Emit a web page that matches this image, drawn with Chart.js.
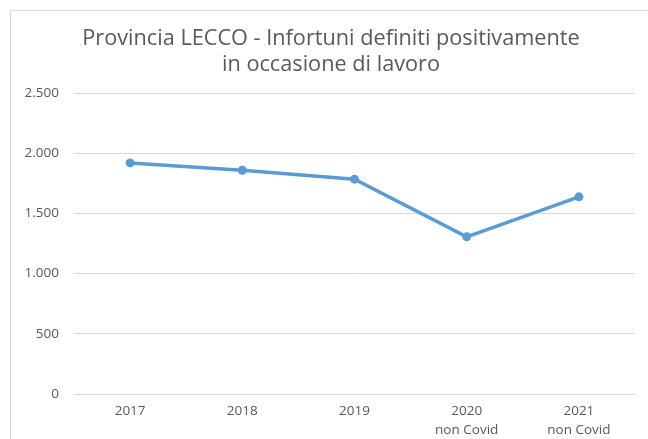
<!DOCTYPE html>
<html lang="it">
<head>
<meta charset="utf-8">
<title>Provincia LECCO - Infortuni</title>
<script src="https://cdn.jsdelivr.net/npm/chart.js@4/dist/chart.umd.min.js"></script>
<style>
    html, body { margin: 0; padding: 0; background: #fff; overflow: hidden; }
    #frame {
        position: absolute;
        left: 10px;
        top: 10px;
        width: 650px;
        height: 440px;
        border-left: 1px solid #d9d9d9;
        border-top: 1px solid #d9d9d9;
    }
    #chartBox { position: absolute; left: 0; top: 0; width: 640px; height: 428px; }
</style>
</head>
<body>
<div id="frame">
    <div id="chartBox"><canvas id="lineChart"></canvas></div>
</div>
<script>
// anni e valori (infortuni definiti positivamente)
const anni = [['2017'], ['2018'], ['2019'], ['2020', 'non Covid'], ['2021', 'non Covid']];
const infortuni = [1920, 1859, 1785, 1306, 1638];
const yMax = 2500;
const yStep = 500;

const titolo = ['Provincia LECCO - Infortuni definiti positivamente', 'in occasione di lavoro'];

const grigio = '#595959';
const griglia = '#d9d9d9';
const blu = '#5b9bd5';

// 2500 -> "2.500"
function formatoIt(v) {
    return String(v).replace(/\B(?=(\d{3})+(?!\d))/g, '.');
}

Chart.defaults.font.family = "'Open Sans', 'Liberation Sans', sans-serif";
Chart.defaults.color = grigio;

new Chart(document.getElementById('lineChart'), {
    type: 'line',
    data: {
        labels: anni,
        datasets: [{
            data: infortuni,
            borderColor: blu,
            backgroundColor: blu,
            borderWidth: 3.5,
            pointRadius: 4.5,
            pointHoverRadius: 4.5,
            pointBorderWidth: 0,
            pointBackgroundColor: blu,
            tension: 0,
            fill: false
        }]
    },
    options: {
        responsive: true,
        maintainAspectRatio: false,
        animation: false,
        layout: { padding: 0 },
        plugins: {
            legend: { display: false },
            tooltip: { enabled: false },
            title: {
                display: true,
                text: titolo,
                color: grigio,
                font: { size: 21.7, weight: 'normal', lineHeight: 1.2 },
                padding: { top: 15, bottom: 15 }
            }
        },
        scales: {
            x: {
                offset: true,
                grid: { display: false, drawTicks: false },
                border: { display: true, color: griglia, width: 1 },
                ticks: {
                    padding: 8,
                    maxRotation: 0,
                    font: { size: 13.5, lineHeight: 1.4 }
                },
                afterFit: function(scale) { scale.height = 45; }
            },
            y: {
                min: 0,
                max: yMax,
                grid: { color: griglia, lineWidth: 1, drawTicks: false },
                border: { display: false },
                ticks: {
                    stepSize: yStep,
                    padding: 15,
                    font: { size: 13.5 },
                    callback: function(v) { return formatoIt(v); }
                },
                afterFit: function(scale) { scale.width = 63; }
            },
            // margine destro vuoto, così il titolo resta centrato sull'intero riquadro
            destra: {
                position: 'right',
                grid: { display: false, drawTicks: false },
                border: { display: false },
                ticks: { display: false },
                afterFit: function(scale) { scale.width = 16; }
            }
        }
    }
});
</script>
</body>
</html>
